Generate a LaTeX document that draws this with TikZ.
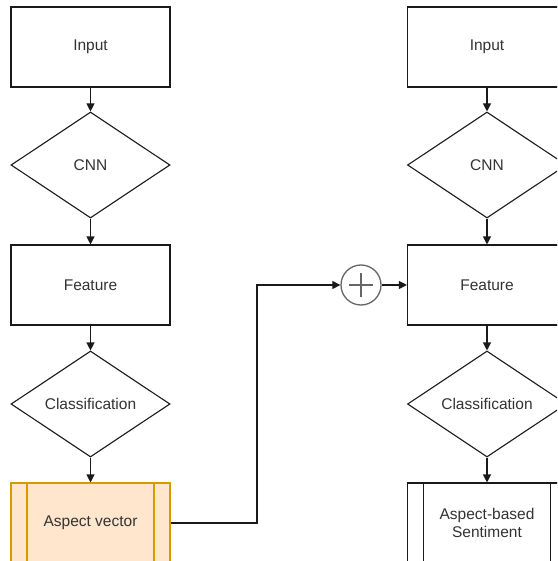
\documentclass[tikz,border=0pt]{standalone}
\usepackage{fontspec}
\setmainfont{Liberation Sans}
\usetikzlibrary{shapes.geometric,arrows.meta}
\definecolor{txt}{HTML}{333333}
\definecolor{edge}{HTML}{1A1A1A}
\definecolor{accfill}{HTML}{FFE6CC}
\definecolor{accline}{HTML}{D79B00}
\definecolor{sumline}{HTML}{666666}
\begin{document}
\begin{tikzpicture}[x=1pt,y=-1pt,
  every node/.style={font=\fontsize{15.5}{18}\selectfont, text=txt},
  box/.style={draw=edge, line width=1.1pt, fill=white, minimum width=159pt,
    minimum height=80pt, inner sep=0pt, align=center},
  dia/.style={diamond, draw=edge, line width=1.1pt, fill=white, aspect=1.5,
    minimum width=159pt, minimum height=106pt, inner sep=0pt},
  proc/.style={box, path picture={
    \draw[line width=1.1pt, draw=#1]
      ([xshift=16pt]path picture bounding box.north west) --
      ([xshift=16pt]path picture bounding box.south west)
      ([xshift=-16pt]path picture bounding box.north east) --
      ([xshift=-16pt]path picture bounding box.south east);}},
  arr/.style={draw=edge, line width=1.1pt, -{Triangle[length=8pt,width=8pt]}},
]
\clip (0,0) rectangle (557,561);
\useasboundingbox (0,0) rectangle (557,561);

% left column
\node[box] (inL) at (90.5,47) {Input};
\node[dia] (cnnL) at (90.5,165) {CNN};
\node[box] (featL) at (90.5,285) {Feature};
\node[dia] (clsL) at (90.5,404) {Classification};
\node[proc=accline, draw=accline, fill=accfill] (aspL) at (90.5,523) {Aspect vector};

% right column
\node[box] (inR) at (487,47) {Input};
\node[dia] (cnnR) at (487,165) {CNN};
\node[box] (featR) at (487,285) {Feature};
\node[dia] (clsR) at (487,404) {Classification};
\node[proc=edge] (sentR) at (487,523) {Aspect-based\\Sentiment};

% summation junction
\node[circle, draw=sumline, line width=1.3pt, minimum size=40pt, inner sep=0pt,
  path picture={\draw[sumline, line width=1.3pt]
    ([xshift=-12pt]path picture bounding box.center) -- ([xshift=12pt]path picture bounding box.center)
    ([yshift=-12pt]path picture bounding box.center) -- ([yshift=12pt]path picture bounding box.center);}]
  (sum) at (361,285) {};

% vertical flows
\foreach \a/\b in {inL/cnnL, cnnL/featL, featL/clsL, clsL/aspL,
                   inR/cnnR, cnnR/featR, featR/clsR, clsR/sentR}
  \draw[arr] (\a.south) -- (\b.north);

% aspect vector into the junction, then into the right feature
\coordinate (turn) at (257,523);
\draw[arr] (aspL.east) -- (turn) |- (sum.west);
\draw[arr] (sum.east) -- (featR.west);
\end{tikzpicture}
\end{document}
